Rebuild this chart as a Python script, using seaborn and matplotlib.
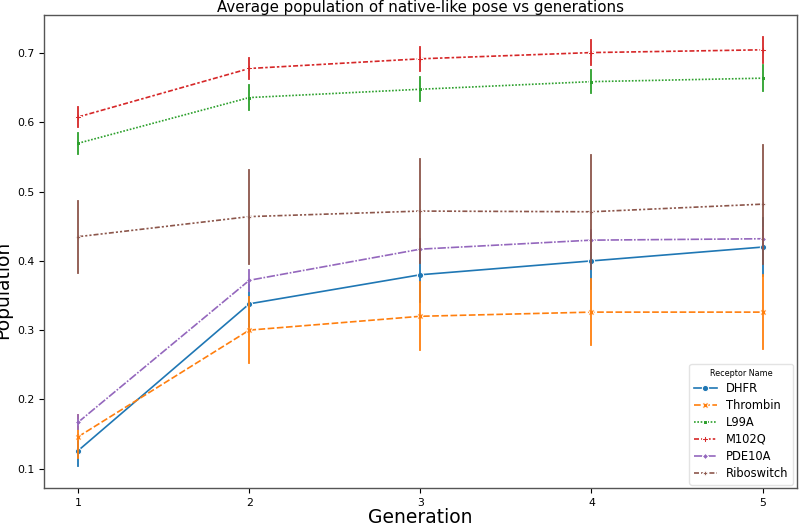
#!/usr/bin/env python3
import pandas as pd
import numpy as np
import seaborn as sns
import matplotlib.pyplot as plt

generations = [1, 2, 3, 4, 5]
receptors = ['DHFR', 'Thrombin', 'L99A', 'M102Q', 'PDE10A', 'Riboswitch']

# mean population per generation
dhfr_mean = [0.126, 0.338, 0.380, 0.400, 0.420]
thrombin_mean = [0.146, 0.300, 0.320, 0.326, 0.326]
l99a_mean = [0.570, 0.636, 0.648, 0.659, 0.664]
m102q_mean = [0.608, 0.678, 0.692, 0.701, 0.705]
pde10a_mean = [0.167, 0.372, 0.417, 0.430, 0.432]
ribo_mean = [0.435, 0.464, 0.472, 0.471, 0.482]

# half-length of error bars
dhfr_err = [0.023, 0.035, 0.040, 0.040, 0.042]
thrombin_err = [0.031, 0.048, 0.049, 0.048, 0.053]
l99a_err = [0.015, 0.018, 0.017, 0.017, 0.019]
m102q_err = [0.014, 0.015, 0.017, 0.018, 0.019]
pde10a_err = [0.010, 0.015, 0.015, 0.015, 0.015]
ribo_err = [0.052, 0.068, 0.075, 0.082, 0.086]


def main(out_file='out.png'):
    means = [dhfr_mean, thrombin_mean, l99a_mean, m102q_mean, pde10a_mean, ribo_mean]
    errs = [dhfr_err, thrombin_err, l99a_err, m102q_err, pde10a_err, ribo_err]

    # two rows per point (low / high) so the interval gives the bar and mean the centre
    rows = []
    for name, m, e in zip(receptors, means, errs):
        for g, mv, ev in zip(generations, m, e):
            rows.append((g, mv - ev, name))
            rows.append((g, mv + ev, name))
    df = pd.DataFrame(rows, columns=['Generation', 'Population', 'Receptor Name'])

    fig = plt.figure(figsize=(8, 5.23), dpi=100, facecolor='white')
    ax = fig.add_axes([0.055, 0.067, 0.941, 0.904])

    sns.lineplot(data=df, x='Generation', y='Population', hue='Receptor Name',
                 style='Receptor Name', markers=True, dashes=True,
                 estimator='mean', errorbar=('pi', 100), err_style='bars',
                 linewidth=1.2, markersize=4.5, ax=ax,
                 err_kws={'linewidth': 1.3})

    ax.set_title('Average population of native-like pose vs generations', fontsize=10.8, pad=2)
    ax.set_xlabel('Generation', fontsize=13.5, labelpad=0)
    ax.set_ylabel('Population', fontsize=13.5)
    ax.yaxis.set_label_coords(-0.042, 0.42)
    ax.set_xticks(generations)
    ax.tick_params(labelsize=7.8)

    for spine in ax.spines.values():
        spine.set_edgecolor('#555555')
        spine.set_linewidth(1.0)

    leg = ax.legend(loc='lower right', title='Receptor Name', fontsize=8.3,
                    title_fontsize=5.8, frameon=True, labelspacing=0.35,
                    borderaxespad=0.3)
    leg.get_frame().set_edgecolor('#dddddd')

    fig.savefig(out_file, dpi=100, facecolor='white')


if __name__ == '__main__':
    main()
